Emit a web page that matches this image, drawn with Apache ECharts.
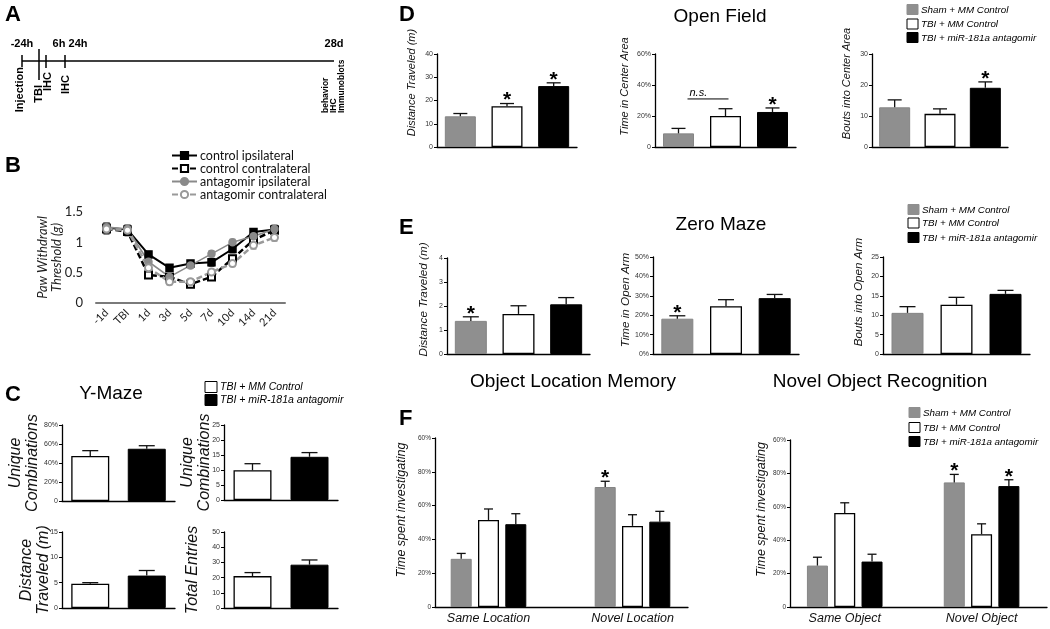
<!DOCTYPE html>
<html><head><meta charset="utf-8">
<script src="https://cdn.jsdelivr.net/npm/echarts@6/dist/echarts.min.js"></script>
<style>html,body{margin:0;padding:0;background:#fff}#c{width:1050px;height:629px}</style>
</head><body><div id="c"></div>
<script>
// ================= DATA =================
// Panel A timeline texts
const aTopLabels = ['-24h', '6h', '24h', '28d'];
const aBottomLabels = ['Injection', 'TBI', 'IHC', 'IHC'];
const aEndLabels = ['behavior', 'IHC', 'Immunoblots'];

// Panel B
const bDays = ['-1d', 'TBI', '1d', '3d', '5d', '7d', '10d', '14d', '21d'];
const bNames = ['control ipsilateral', 'control contralateral', 'antagomir ipsilateral', 'antagomir contralateral'];
const bCtrlIpsi = [1.24, 1.21, 0.80, 0.58, 0.65, 0.67, 0.89, 1.17, 1.21];
const bCtrlContra = [1.22, 1.18, 0.46, 0.43, 0.31, 0.43, 0.73, 1.04, 1.20];
const bAntIpsi = [1.25, 1.22, 0.68, 0.43, 0.62, 0.81, 1.00, 1.10, 1.22];
const bAntContra = [1.22, 1.20, 0.58, 0.35, 0.35, 0.51, 0.65, 0.95, 1.08];
const bCtrlIpsiErr = [0.08, 0.07, 0.05, 0.05, 0.05, 0.06, 0.06, 0.05, 0.07];
const bCtrlContraErr = [0.08, 0.07, 0.05, 0.05, 0.05, 0.05, 0.05, 0.06, 0.06];
const bAntIpsiErr = [0.07, 0.07, 0.06, 0.05, 0.05, 0.05, 0.05, 0.05, 0.06];
const bAntContraErr = [0.07, 0.07, 0.06, 0.05, 0.05, 0.05, 0.05, 0.06, 0.06];

// Groups
const legend3 = ['Sham + MM Control', 'TBI + MM Control', 'TBI + miR-181a antagomir'];
const legend2 = ['TBI + MM Control', 'TBI + miR-181a antagomir'];

// Panel C (Y-Maze)
const cUnique1 = [47.5, 55.0];   const cUnique1Err = [5.5, 3.2];
const cUnique2 = [9.9, 14.4];    const cUnique2Err = [2.2, 1.4];
const cDist = [4.8, 6.4];        const cDistErr = [0.2, 1.0];
const cEntries = [21.0, 28.5];   const cEntriesErr = [2.3, 3.1];

// Panel D (Open Field)
const dDist = [13.2, 17.5, 26.2];    const dDistErr = [1.2, 1.2, 1.4];   const dDistSig = [0, 1, 1];
const dCenter = [8.8, 20.0, 22.6];   const dCenterErr = [3.2, 4.7, 2.6]; const dCenterSig = [0, 0, 1];
const dBouts = [12.8, 10.7, 19.1];   const dBoutsErr = [2.4, 1.6, 1.9];  const dBoutsSig = [0, 0, 1];
const dNsLevel = 31;

// Panel E (Zero Maze)
const eDist = [1.38, 1.67, 2.07];    const eDistErr = [0.17, 0.34, 0.28]; const eDistSig = [1, 0, 0];
const eOpen = [18.2, 24.6, 28.8];    const eOpenErr = [1.5, 3.4, 1.9];    const eOpenSig = [1, 0, 0];
const eBouts = [10.6, 12.7, 15.5];   const eBoutsErr = [1.6, 1.9, 0.9];   const eBoutsSig = [0, 0, 0];

// Panel F
const fTickLabels = ['0', '20%', '40%', '60%', '80%', '60%'];
const fLocCats = ['Same Location', 'Novel Location'];
const fLocSham = [28.5, 71.0]; const fLocShamErr = [3.2, 3.4]; const fLocShamSig = [0, 1];
const fLocTbi = [51.5, 48.0];  const fLocTbiErr = [6.5, 6.6];  const fLocTbiSig = [0, 0];
const fLocAnt = [49.0, 50.5];  const fLocAntErr = [6.2, 6.1];  const fLocAntSig = [0, 0];
const fObjCats = ['Same Object', 'Novel Object'];
const fObjSham = [24.8, 74.6]; const fObjShamErr = [5.0, 4.8]; const fObjShamSig = [0, 1];
const fObjTbi = [56.3, 43.6];  const fObjTbiErr = [6.1, 6.2];  const fObjTbiSig = [0, 0];
const fObjAnt = [27.2, 72.4];  const fObjAntErr = [4.4, 3.8];  const fObjAntSig = [0, 1];

// ================= BUILD =================
const FONT = '"Liberation Sans", Arial, sans-serif';
const grids = [], xAxes = [], yAxes = [], series = [], graphics = [];
const STY = {
  sham: { color: '#8f8f8f', borderColor: '#858585', borderWidth: 1 },
  tbi: { color: '#ffffff', borderColor: '#000000', borderWidth: 1.3 },
  ant: { color: '#000000', borderColor: '#000000', borderWidth: 1 }
};

function addGrid(g) { grids.push({ left: g.left, top: g.top, width: g.width, height: g.height }); return grids.length - 1; }

function errSeries(xi, yi, vals, errs, sigs, offset, cap, color, both) {
  return {
    type: 'custom', xAxisIndex: xi, yAxisIndex: yi, clip: false, z: 5, silent: true, animation: false,
    data: vals.map((v, i) => [i, v, errs[i], sigs ? sigs[i] : 0]),
    renderItem: function (p, api) {
      const i = api.value(0), v = api.value(1), e = api.value(2), s = api.value(3);
      const p0 = api.coord([i, both ? v - e : v]);
      const p1 = api.coord([i, v + e]);
      const x = p0[0] + offset;
      const ch = [
        { type: 'line', shape: { x1: x, y1: p0[1], x2: x, y2: p1[1] }, style: { stroke: color, lineWidth: 1.3 } },
        { type: 'line', shape: { x1: x - cap, y1: p1[1], x2: x + cap, y2: p1[1] }, style: { stroke: color, lineWidth: 1.3 } }
      ];
      if (both) ch.push({ type: 'line', shape: { x1: x - cap, y1: p0[1], x2: x + cap, y2: p0[1] }, style: { stroke: color, lineWidth: 1.3 } });
      if (s) ch.push({ type: 'text', x: x, y: p1[1] - 3, style: { text: '*', font: 'bold 21px "Liberation Sans"', fill: '#000', align: 'center', verticalAlign: 'middle' } });
      return { type: 'group', children: ch };
    }
  };
}

function yAxisDef(gi, o) {
  return {
    gridIndex: gi, type: 'value', min: o.min, max: o.max, interval: o.interval,
    axisLine: { show: true, lineStyle: { color: '#000', width: 1.3 } },
    axisTick: { show: true, length: 3, lineStyle: { color: '#000', width: 1 } },
    splitLine: { show: false },
    axisLabel: { fontSize: o.tickSize || 7, color: '#333', margin: 4, fontFamily: FONT, formatter: o.fmt },
    name: o.name, nameLocation: 'middle', nameRotate: 90, nameGap: o.nameGap, nameMoveOverlap: false,
    nameTextStyle: { fontFamily: FONT, fontStyle: 'italic', fontSize: o.nameSize || 11, color: '#111',
      lineHeight: o.nameLH || undefined, padding: [0, 0, 0, 2 * (o.shift || 0)] }
  };
}

function barPanel(o) {
  const gi = addGrid(o.grid);
  xAxes.push({ gridIndex: gi, type: 'category', data: o.cats,
    axisLine: { show: true, lineStyle: { color: '#000', width: 1.3 } }, axisTick: { show: false }, axisLabel: { show: false } });
  const xi = xAxes.length - 1;
  yAxes.push(yAxisDef(gi, o));
  const yi = yAxes.length - 1;
  series.push({ type: 'bar', xAxisIndex: xi, yAxisIndex: yi, barWidth: o.barWidth, animation: false, silent: true,
    data: o.values.map((v, i) => ({ value: v, itemStyle: STY[o.styles[i]] })) });
  series.push(errSeries(xi, yi, o.values, o.errs, o.sigs, 0, o.cap, '#111', false));
  return { xi, yi };
}

const pctFmt = v => (v === 0 ? '0' : v + '%');

// ---- Panel C ----
barPanel({ grid: { left: 62, top: 425, width: 113, height: 76 }, cats: legend2, styles: ['tbi', 'ant'],
  values: cUnique1, errs: cUnique1Err, min: 0, max: 80, interval: 20, fmt: pctFmt, tickSize: 7,
  name: 'Unique\nCombinations', nameGap: 21, nameSize: 16, nameLH: 17, barWidth: 38, cap: 8 });
barPanel({ grid: { left: 224, top: 425, width: 114, height: 75 }, cats: legend2, styles: ['tbi', 'ant'],
  values: cUnique2, errs: cUnique2Err, min: 0, max: 25, interval: 5, tickSize: 7,
  name: 'Unique\nCombinations', nameGap: 11, nameSize: 16, nameLH: 17, barWidth: 38, cap: 8 });
barPanel({ grid: { left: 62, top: 532, width: 113, height: 76 }, cats: legend2, styles: ['tbi', 'ant'],
  values: cDist, errs: cDistErr, min: 0, max: 15, interval: 5, tickSize: 7,
  name: 'Distance\nTraveled (m)', nameGap: 10, nameSize: 16, nameLH: 17, barWidth: 38, cap: 8 });
barPanel({ grid: { left: 224, top: 532, width: 114, height: 76 }, cats: legend2, styles: ['tbi', 'ant'],
  values: cEntries, errs: cEntriesErr, min: 0, max: 50, interval: 10, tickSize: 7,
  name: 'Total Entries', nameGap: 23, nameSize: 16, barWidth: 38, cap: 8 });

// ---- Panel D ----
barPanel({ grid: { left: 437, top: 54, width: 140, height: 93 }, cats: legend3, styles: ['sham', 'tbi', 'ant'],
  values: dDist, errs: dDistErr, sigs: dDistSig, min: 0, max: 40, interval: 10,
  name: 'Distance Traveled (m)', nameGap: 20, nameSize: 11, shift: 18, barWidth: 31, cap: 7 });
const d2 = barPanel({ grid: { left: 655, top: 54, width: 141, height: 93 }, cats: legend3, styles: ['sham', 'tbi', 'ant'],
  values: dCenter, errs: dCenterErr, sigs: dCenterSig, min: 0, max: 60, interval: 20, fmt: pctFmt,
  name: 'Time in Center Area', nameGap: 25, nameSize: 11, shift: 14, barWidth: 31, cap: 7 });
barPanel({ grid: { left: 872, top: 54, width: 136, height: 93 }, cats: legend3, styles: ['sham', 'tbi', 'ant'],
  values: dBouts, errs: dBoutsErr, sigs: dBoutsSig, min: 0, max: 30, interval: 10,
  name: 'Bouts into Center Area', nameGap: 20, nameSize: 11, shift: 17, barWidth: 31, cap: 7 });
series.push({ type: 'custom', xAxisIndex: d2.xi, yAxisIndex: d2.yi, clip: false, z: 6, silent: true, animation: false,
  data: [[0, 1, dNsLevel]],
  renderItem: function (p, api) {
    const a = api.coord([api.value(0), api.value(2)]);
    const b = api.coord([api.value(1), api.value(2)]);
    return { type: 'group', children: [
      { type: 'line', shape: { x1: a[0] + 9, y1: a[1], x2: b[0] + 3, y2: b[1] }, style: { stroke: '#000', lineWidth: 1 } },
      { type: 'text', x: a[0] + 11, y: a[1] - 1, style: { text: 'n.s.', font: 'italic 11px "Liberation Sans"', fill: '#000', align: 'left', verticalAlign: 'bottom' } }
    ] };
  } });

// ---- Panel E ----
barPanel({ grid: { left: 447, top: 258, width: 143, height: 96 }, cats: legend3, styles: ['sham', 'tbi', 'ant'],
  values: eDist, errs: eDistErr, sigs: eDistSig, min: 0, max: 4, interval: 1,
  name: 'Distance Traveled (m)', nameGap: 17, nameSize: 11.7, shift: 6.5, barWidth: 32, cap: 8 });
barPanel({ grid: { left: 653, top: 257, width: 146, height: 97 }, cats: legend3, styles: ['sham', 'tbi', 'ant'],
  values: eOpen, errs: eOpenErr, sigs: eOpenSig, min: 0, max: 50, interval: 10, fmt: v => v + '%',
  name: 'Time in Open Arm', nameGap: 21, nameSize: 11.7, shift: 5.5, barWidth: 32, cap: 8 });
barPanel({ grid: { left: 883, top: 257, width: 147, height: 97 }, cats: legend3, styles: ['sham', 'tbi', 'ant'],
  values: eBouts, errs: eBoutsErr, sigs: eBoutsSig, min: 0, max: 25, interval: 5,
  name: 'Bouts into Open Arm', nameGap: 18, nameSize: 11.7, shift: 13.5, barWidth: 32, cap: 8 });

// ---- Panel F ----
function fPanel(axisGrid, barGrid, cats, groups, nameGap, shift) {
  const ga = addGrid(axisGrid);
  xAxes.push({ gridIndex: ga, type: 'category', data: [''], axisLine: { lineStyle: { color: '#000', width: 1.3 } }, axisTick: { show: false }, axisLabel: { show: false } });
  yAxes.push(yAxisDef(ga, { min: 0, max: 100, interval: 20, fmt: v => fTickLabels[Math.round(v / 20)], tickSize: 6.5,
    name: 'Time spent investigating', nameGap: nameGap, nameSize: 12.5, shift: shift }));
  const gb = addGrid(barGrid);
  xAxes.push({ gridIndex: gb, type: 'category', data: cats, axisLine: { show: false }, axisTick: { show: false },
    axisLabel: { fontStyle: 'italic', fontSize: 12.5, color: '#111', margin: 5, fontFamily: FONT, interval: 0 } });
  const xi = xAxes.length - 1;
  yAxes.push({ gridIndex: gb, type: 'value', min: 0, max: 100, show: false });
  const yi = yAxes.length - 1;
  const bw = 21, gap = 0.3, step = bw * (1 + gap);
  groups.forEach((g, k) => {
    series.push({ type: 'bar', name: g.name, xAxisIndex: xi, yAxisIndex: yi, barWidth: bw, barGap: '30%', animation: false, silent: true,
      itemStyle: STY[g.style], data: g.values });
  });
  groups.forEach((g, k) => {
    series.push(errSeries(xi, yi, g.values, g.errs, g.sigs, (k - 1) * step, 4.5, '#111', false));
  });
}
fPanel({ left: 435, top: 438, width: 253, height: 169 }, { left: 416.5, top: 438, width: 288, height: 169 }, fLocCats, [
  { name: legend3[0], style: 'sham', values: fLocSham, errs: fLocShamErr, sigs: fLocShamSig },
  { name: legend3[1], style: 'tbi', values: fLocTbi, errs: fLocTbiErr, sigs: fLocTbiSig },
  { name: legend3[2], style: 'ant', values: fLocAnt, errs: fLocAntErr, sigs: fLocAntSig }], 27, 12.5);
fPanel({ left: 790, top: 440, width: 257, height: 167 }, { left: 776.3, top: 440, width: 288, height: 167 }, fObjCats, [
  { name: legend3[0], style: 'sham', values: fObjSham, errs: fObjShamErr, sigs: fObjShamSig },
  { name: legend3[1], style: 'tbi', values: fObjTbi, errs: fObjTbiErr, sigs: fObjTbiSig },
  { name: legend3[2], style: 'ant', values: fObjAnt, errs: fObjAntErr, sigs: fObjAntSig }], 22, 14);

// ---- Panel B ----
const bgi = addGrid({ left: 96, top: 212, width: 189, height: 91 });
xAxes.push({ gridIndex: bgi, type: 'category', data: bDays,
  axisLine: { lineStyle: { color: '#7a7a7a', width: 2 } }, axisTick: { show: false },
  axisLabel: { rotate: 45, fontSize: 11, color: '#222', fontFamily: 'Lato', margin: 8, interval: 0 } });
const bxi = xAxes.length - 1;
yAxes.push({ gridIndex: bgi, type: 'value', min: 0, max: 1.5, interval: 0.5,
  axisLine: { show: false }, axisTick: { show: false }, splitLine: { show: false },
  axisLabel: { fontSize: 13, color: '#222', fontFamily: 'Lato', margin: 13 },
  name: 'Paw Withdrawl\nThreshold (g)', nameLocation: 'middle', nameRotate: 90, nameGap: 32, nameMoveOverlap: false,
  nameTextStyle: { fontFamily: 'Lato', fontStyle: 'italic', fontSize: 13, lineHeight: 14, color: '#222' } });
const byi = yAxes.length - 1;
const bDefs = [
  { name: bNames[0], data: bCtrlIpsi, err: bCtrlIpsiErr, color: '#000', width: 2, type: 'solid', symbol: 'rect', size: 7 },
  { name: bNames[1], data: bCtrlContra, err: bCtrlContraErr, color: '#000', width: 2.5, type: [6, 3], symbol: 'emptyRect', size: 7 },
  { name: bNames[2], data: bAntIpsi, err: bAntIpsiErr, color: '#8a8a8a', width: 1.6, type: 'solid', symbol: 'circle', size: 7 },
  { name: bNames[3], data: bAntContra, err: bAntContraErr, color: '#9a9a9a', width: 2.5, type: [6, 3], symbol: 'emptyCircle', size: 7 }
];
bDefs.forEach(d => {
  series.push(errSeries(bxi, byi, d.data, d.err, null, 0, 3, d.color, true));
});
bDefs.forEach(d => {
  series.push({ type: 'line', name: d.name, xAxisIndex: bxi, yAxisIndex: byi, data: d.data, animation: false, silent: true,
    symbol: d.symbol, symbolSize: d.size, showAllSymbol: true, z: 10,
    lineStyle: { color: d.color, width: d.width, type: d.type },
    itemStyle: { color: d.color, borderColor: d.color, borderWidth: 1.5 } });
});

// ---- Graphics: panel A, letters, titles, bar legends ----
const TL = 'bold 11px "Liberation Sans"';
const TLs = 'bold 8.5px "Liberation Sans"';
function gLine(x1, y1, x2, y2, w) { graphics.push({ type: 'line', shape: { x1, y1, x2, y2 }, style: { stroke: '#000', lineWidth: w || 1.5 }, silent: true }); }
function gText(x, y, text, font, align, valign, rot) {
  graphics.push({ type: 'text', x, y, rotation: rot || 0, silent: true,
    style: { text, font, fill: '#000', align: align || 'center', verticalAlign: valign || 'middle' } });
}
// timeline
gLine(22, 61, 334, 61, 1.5);
gLine(22, 55, 22, 67, 1.5);
gLine(39, 49, 39, 80, 1.5);
gLine(46, 55, 46, 68, 1.5);
gLine(65, 55, 65, 68, 1.5);
[22, 59, 78, 334].forEach((x, i) => gText(x, 44, aTopLabels[i], TL, 'center', 'middle'));
[[20, 67], [39, 85], [48, 72], [66, 75]].forEach((p, i) =>
  gText(p[0], p[1], aBottomLabels[i], TL, 'right', 'middle', Math.PI / 2));
[[326, 113], [334, 113], [342, 113]].forEach((p, i) =>
  gText(p[0], p[1], aEndLabels[i], TLs, 'left', 'middle', Math.PI / 2));

// letters
const LET = 'bold 22px "Liberation Sans"';
[['A', 5, 15], ['B', 5, 166], ['C', 5, 395], ['D', 399, 15], ['E', 399, 228], ['F', 399, 419]].forEach(l => gText(l[1], l[2], l[0], LET, 'left', 'middle'));

// titles
const TIT = '19px "Liberation Sans"';
[['Y-Maze', 111, 394], ['Open Field', 720, 17], ['Zero Maze', 721, 225], ['Object Location Memory', 573, 382], ['Novel Object Recognition', 880, 382]]
  .forEach(t => gText(t[1], t[2], t[0], TIT, 'center', 'middle'));

// bar legends
function barLegend(x, ys, size, keys, labels, font) {
  keys.forEach((k, i) => {
    const s = STY[k];
    graphics.push({ type: 'rect', shape: { x: x, y: ys[i] - size / 2, width: size, height: size - 1 }, silent: true,
      style: { fill: s.color, stroke: k === 'tbi' ? '#000' : s.color, lineWidth: 1 } });
    gText(x + size + 3, ys[i], labels[i], font, 'left', 'middle');
  });
}
barLegend(205, [387.5, 400.5], 12, ['tbi', 'ant'], legend2, 'italic 10.5px "Liberation Sans"');
barLegend(907, [10, 24.5, 38], 11, ['sham', 'tbi', 'ant'], legend3, 'italic 9.8px "Liberation Sans"');
barLegend(908, [210, 223.5, 238], 11, ['sham', 'tbi', 'ant'], legend3, 'italic 9.8px "Liberation Sans"');
barLegend(909, [413, 428, 442], 11, ['sham', 'tbi', 'ant'], legend3, 'italic 9.8px "Liberation Sans"');

const option = {
  backgroundColor: '#fff',
  animation: false,
  textStyle: { fontFamily: FONT },
  grid: grids, xAxis: xAxes, yAxis: yAxes, series: series,
  legend: [{ data: bNames, left: 171, top: 149, padding: 0, orient: 'vertical', itemWidth: 25, itemHeight: 9, itemGap: 0,
    selectedMode: false, textStyle: { fontFamily: 'Lato', fontSize: 12.5, lineHeight: 13, color: '#111', padding: [0, 0, 0, -2] } }],
  graphic: graphics
};
const chart = echarts.init(document.getElementById('c'), null, { renderer: 'canvas' });
chart.setOption(option);
</script></body></html>
